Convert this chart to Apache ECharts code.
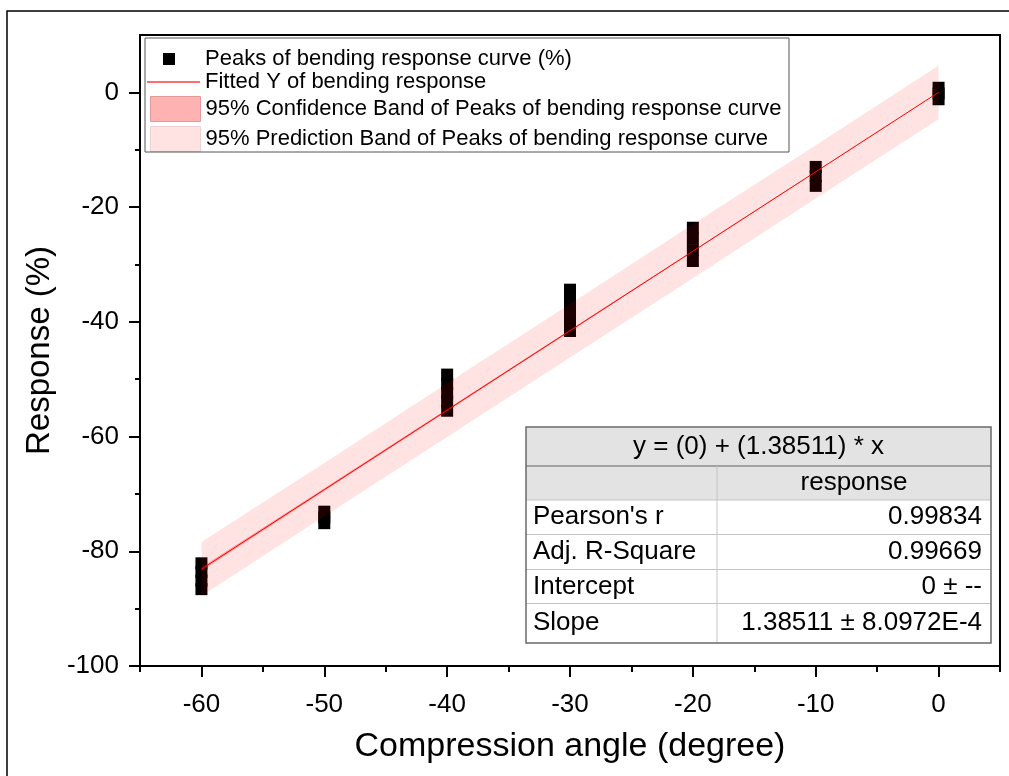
<!DOCTYPE html>
<html>
<head>
<meta charset="utf-8">
<script src="https://cdn.jsdelivr.net/npm/echarts@6/dist/echarts.min.js"></script>
<style>
html,body{margin:0;padding:0;background:#fff;}
#chart{width:1009px;height:776px;}
</style>
</head>
<body>
<div id="chart"></div>
<script>
// ---- data ----
var angles = [-60, -50, -40, -30, -20, -10, 0];
var peakReadings = [
  [-82.1, -83.6, -85.1, -86.6],
  [-73.1, -74.1, -75.1],
  [-49.2, -50.8, -52.4, -53.9, -55.5],
  [-34.4, -36.2, -38.0, -39.8, -41.6],
  [-23.6, -25.5, -27.5, -29.4],
  [-13.0, -14.6, -16.3],
  [0.8, -0.2, -1.2]
];
var fittedY = [-83.11, -69.26, -55.40, -41.55, -27.70, -13.85, 0];
var confUpper = [-82.8, -69.0, -55.2, -41.4, -27.6, -13.8, 0.0];
var confLower = [-83.4, -69.5, -55.6, -41.7, -27.8, -13.9, 0.0];
var predUpper = [-78.4, -64.6, -50.7, -36.9, -23.0, -9.2, 4.7];
var predLower = [-87.8, -73.9, -60.1, -46.2, -32.4, -18.5, -4.7];

var xMajorTicks = [-60, -50, -40, -30, -20, -10, 0];
var xMinorTicks = [-65, -55, -45, -35, -25, -15, -5, 5];
var yMajorTicks = [-100, -80, -60, -40, -20, 0];
var yMinorTicks = [-90, -70, -50, -30, -10];

var seriesNames = [
  'Peaks of bending response curve (%)',
  'Fitted Y of bending response',
  '95% Confidence Band of Peaks of bending response curve',
  '95% Prediction Band of Peaks of bending response curve'
];

var tableTitle = 'y = (0) + (1.38511) * x';
var tableColHeader = 'response';
var tableRowLabels = ["Pearson's r", 'Adj. R-Square', 'Intercept', 'Slope'];
var tableRowValues = ['0.99834', '0.99669', '0 \u00b1 --', '1.38511 \u00b1 8.0972E-4'];

// ---- build ----
var scatterData = [];
angles.forEach(function (a, i) {
  peakReadings[i].forEach(function (v) { scatterData.push([a, v]); });
});

function bandSeries(name, upper, lower, color, z) {
  return {
    name: name,
    type: 'custom',
    z: z,
    silent: true,
    data: angles.map(function (a, i) { return [a, lower[i], upper[i]]; }),
    encode: { x: 0, y: [1, 2] },
    renderItem: function (params, api) {
      if (params.dataIndex !== 0) return null;
      var pts = [];
      for (var i = 0; i < angles.length; i++) pts.push(api.coord([angles[i], upper[i]]));
      for (var j = angles.length - 1; j >= 0; j--) pts.push(api.coord([angles[j], lower[j]]));
      return { type: 'polygon', shape: { points: pts }, style: { fill: color } };
    }
  };
}

var FONT = '"Liberation Sans", Arial, sans-serif';

// table graphic
var T = { left: 526, top: 427, right: 991, bottom: 643, col: 717 };
var rowEdges = [427, 466, 500, 534.5, 569.5, 603.5, 643];
var TFS = 26;
var tableEls = [];
tableEls.push({ type: 'rect', shape: { x: T.left, y: rowEdges[0], width: T.right - T.left, height: rowEdges[2] - rowEdges[0] }, style: { fill: '#e3e3e3' } });
tableEls.push({ type: 'rect', shape: { x: T.left, y: rowEdges[2], width: T.right - T.left, height: rowEdges[6] - rowEdges[2] }, style: { fill: '#ffffff' } });
for (var r = 2; r < 6; r++) {
  tableEls.push({ type: 'line', shape: { x1: T.left, y1: rowEdges[r], x2: T.right, y2: rowEdges[r] }, style: { stroke: '#c4c4c4', lineWidth: 1 } });
}
tableEls.push({ type: 'line', shape: { x1: T.left, y1: rowEdges[1], x2: T.right, y2: rowEdges[1] }, style: { stroke: '#8c8c8c', lineWidth: 1.5 } });
tableEls.push({ type: 'line', shape: { x1: T.col, y1: rowEdges[1], x2: T.col, y2: rowEdges[6] }, style: { stroke: '#c4c4c4', lineWidth: 1 } });
tableEls.push({ type: 'rect', shape: { x: T.left, y: T.top, width: T.right - T.left, height: T.bottom - T.top }, style: { fill: null, stroke: '#6a6a6a', lineWidth: 1.5 } });
tableEls.push({ type: 'text', x: (T.left + T.right) / 2, y: (rowEdges[0] + rowEdges[1]) / 2, style: { text: tableTitle, fontSize: TFS, fontFamily: FONT, fill: '#000', align: 'center', verticalAlign: 'middle' } });
tableEls.push({ type: 'text', x: (T.col + T.right) / 2, y: (rowEdges[1] + rowEdges[2]) / 2, style: { text: tableColHeader, fontSize: TFS, fontFamily: FONT, fill: '#000', align: 'center', verticalAlign: 'middle' } });
for (var k = 0; k < tableRowLabels.length; k++) {
  var cy = (rowEdges[k + 2] + rowEdges[k + 3]) / 2;
  tableEls.push({ type: 'text', x: 533, y: cy, style: { text: tableRowLabels[k], fontSize: TFS, fontFamily: FONT, fill: '#000', align: 'left', verticalAlign: 'middle' } });
  tableEls.push({ type: 'text', x: 982, y: cy, style: { text: tableRowValues[k], fontSize: TFS, fontFamily: FONT, fill: '#000', align: 'right', verticalAlign: 'middle' } });
}

var legendText = { fontSize: 22, color: '#000', fontFamily: FONT };

var option = {
  animation: false,
  backgroundColor: '#fff',
  textStyle: { fontFamily: FONT },
  grid: { left: 140, top: 35, width: 860, height: 631, show: true, borderColor: '#000', borderWidth: 2, backgroundColor: 'transparent' },
  legend: [
    { data: [{ name: seriesNames[0], icon: 'rect', itemStyle: { color: '#000', borderWidth: 0 } }], orient: 'vertical', left: 163, top: 48, padding: 0,
      itemWidth: 12, itemHeight: 12, textStyle: { fontSize: 22, color: '#000', fontFamily: FONT, padding: [0, 0, 0, 25] }, selectedMode: false },
    { data: [{ name: seriesNames[1], icon: 'rect', itemStyle: { color: '#ff3b3b', borderWidth: 0 } }], orient: 'vertical', left: 147, top: 71, padding: 0,
      itemWidth: 53, itemHeight: 1.3, textStyle: legendText, selectedMode: false },
    { data: [
        { name: seriesNames[2], icon: 'rect', itemStyle: { color: '#ffb2b2', borderColor: '#e39a9a', borderWidth: 1 } },
        { name: seriesNames[3], icon: 'rect', itemStyle: { color: '#ffe3e3', borderColor: '#ead2d2', borderWidth: 1 } }
      ],
      orient: 'vertical', left: 150, top: 96, padding: 0, itemGap: 4,
      itemWidth: 50, itemHeight: 25, textStyle: legendText, selectedMode: false }
  ],
  xAxis: [
    { type: 'value', min: -65, max: 5, position: 'bottom',
      name: 'Compression angle (degree)', nameLocation: 'middle', nameGap: 64,
      nameTextStyle: { fontSize: 34, color: '#000', fontFamily: FONT },
      axisLine: { show: true, onZero: false, lineStyle: { color: '#000', width: 2 } },
      axisTick: { show: true, inside: false, length: 11, customValues: xMajorTicks, lineStyle: { color: '#000', width: 2 } },
      axisLabel: { show: true, customValues: xMajorTicks, fontSize: 26, color: '#000', margin: 26, fontFamily: FONT },
      splitLine: { show: false } },
    { type: 'value', min: -65, max: 5, position: 'bottom',
      axisLine: { show: false, onZero: false },
      axisTick: { show: true, inside: false, length: 6, customValues: xMinorTicks, lineStyle: { color: '#000', width: 2 } },
      axisLabel: { show: false }, splitLine: { show: false } }
  ],
  yAxis: [
    { type: 'value', min: -100, max: 10, position: 'left',
      name: 'Response (%)', nameLocation: 'middle', nameGap: 82, nameRotate: 90,
      nameTextStyle: { fontSize: 33, color: '#000', fontFamily: FONT },
      axisLine: { show: true, onZero: false, lineStyle: { color: '#000', width: 2 } },
      axisTick: { show: true, inside: false, length: 11, customValues: yMajorTicks, lineStyle: { color: '#000', width: 2 } },
      axisLabel: { show: true, customValues: yMajorTicks, fontSize: 26, color: '#000', margin: 21, fontFamily: FONT },
      splitLine: { show: false } },
    { type: 'value', min: -100, max: 10, position: 'left',
      axisLine: { show: false, onZero: false },
      axisTick: { show: true, inside: false, length: 5, customValues: yMinorTicks, lineStyle: { color: '#000', width: 2 } },
      axisLabel: { show: false }, splitLine: { show: false } }
  ],
  series: [
    { name: seriesNames[0], type: 'scatter', xAxisIndex: 0, yAxisIndex: 0, z: 1,
      symbol: 'rect', symbolSize: [12, 12], data: scatterData,
      itemStyle: { color: '#000', borderWidth: 0, opacity: 1 } },
    bandSeries(seriesNames[3], predUpper, predLower, 'rgba(255,0,0,0.11)', 2),
    bandSeries(seriesNames[2], confUpper, confLower, 'rgba(255,0,0,0.3)', 3),
    { name: seriesNames[1], type: 'line', xAxisIndex: 0, yAxisIndex: 0, z: 4,
      data: angles.map(function (a, i) { return [a, fittedY[i]]; }),
      showSymbol: false, symbol: 'none', lineStyle: { color: '#ff0000', width: 1 }, itemStyle: { color: '#ff0000' } }
  ],
  graphic: [
    { type: 'rect', z: 100, shape: { x: 7, y: 11, width: 1010, height: 780 }, style: { fill: null, stroke: '#000', lineWidth: 1.5 }, silent: true },
    { type: 'rect', z: 100, shape: { x: 145, y: 38, width: 644, height: 114 }, style: { fill: null, stroke: '#555', lineWidth: 1 }, silent: true },
    { type: 'group', z: 100, children: tableEls, silent: true }
  ]
};

var chart = echarts.init(document.getElementById('chart'), null, { renderer: 'canvas' });
chart.setOption(option);
</script>
</body>
</html>
